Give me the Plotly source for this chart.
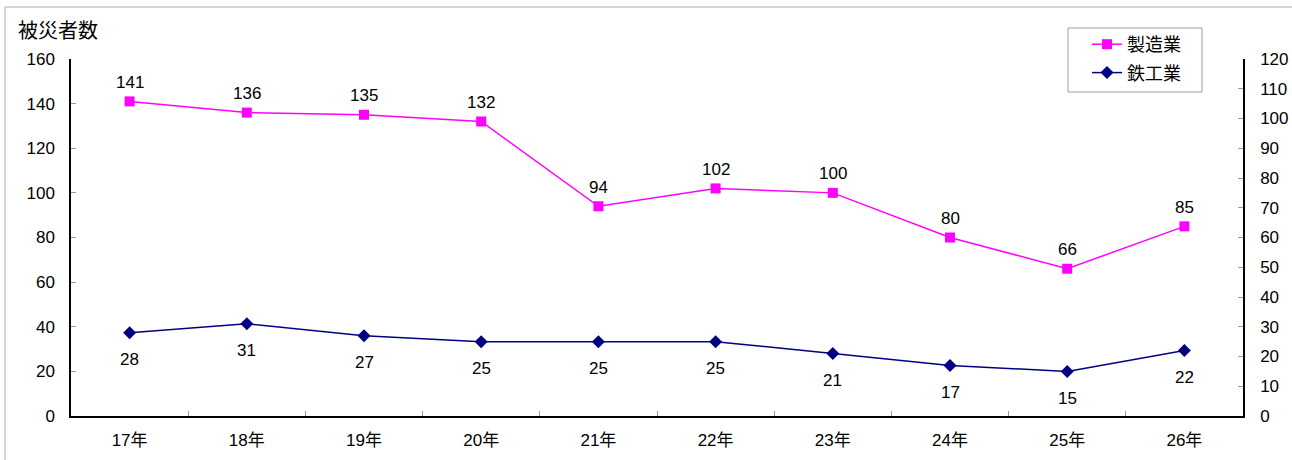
import plotly.graph_objects as go

categories = ["17年", "18年", "19年", "20年", "21年", "22年", "23年", "24年", "25年", "26年"]
seizo = [141, 136, 135, 132, 94, 102, 100, 80, 66, 85]
tekko = [28, 31, 27, 25, 25, 25, 21, 17, 15, 22]

FONT = "Arial, 'Liberation Sans', 'Noto Sans CJK JP', sans-serif"
W, H = 1292, 460
L, R, T, B = 71, 49, 59, 44
pw, ph = W - L - R, H - T - B

def px_x(x):
    return (x - L) / pw

def px_y(y):
    return (H - B - y) / ph

fig = go.Figure()
fig.add_trace(go.Scatter(
    x=categories, y=seizo, name="製造業", mode="lines+markers", legendgroup="a",
    line=dict(color="#ff00ff", width=1.5),
    marker=dict(symbol="square", size=10, color="#ff00ff"),
    yaxis="y",
))
fig.add_trace(go.Scatter(
    x=categories, y=tekko, name="鉄工業", mode="lines+markers", legendgroup="b",
    line=dict(color="#000080", width=1.5),
    marker=dict(symbol="diamond", size=10, color="#000080"),
    yaxis="y2",
))

annotations = []
for c, v in zip(categories, seizo):
    annotations.append(dict(x=c, y=v, xref="x", yref="y", text=str(v), showarrow=False,
                            yshift=19, font=dict(family=FONT, size=17, color="#000")))
for c, v in zip(categories, tekko):
    annotations.append(dict(x=c, y=v, xref="x", yref="y2", text=str(v), showarrow=False,
                            yshift=-27, font=dict(family=FONT, size=17, color="#000")))
annotations.append(dict(x=px_x(16), y=px_y(31), xref="paper", yref="paper",
                        text="被災者数", showarrow=False, xanchor="left", yanchor="middle",
                        font=dict(family=FONT, size=20, color="#000")))

shapes = [
    dict(type="line", xref="paper", yref="paper",
         x0=px_x(5), x1=px_x(W + 5), y0=px_y(7), y1=px_y(7),
         line=dict(color="#c8c8c8", width=1.5)),
    dict(type="line", xref="paper", yref="paper",
         x0=px_x(5), x1=px_x(5), y0=px_y(7), y1=px_y(H + 10),
         line=dict(color="#c8c8c8", width=1.5)),
    # legend frame
    dict(type="rect", xref="paper", yref="paper",
         x0=px_x(1068), x1=px_x(1202), y0=px_y(28), y1=px_y(92),
         line=dict(color="#a0a0a0", width=1), fillcolor="white", layer="below"),
]

axis_common = dict(showgrid=False, zeroline=False, showline=True, linecolor="#000", linewidth=1.5,
                   ticks="inside", ticklen=5, tickcolor="#999", tickwidth=1, automargin=False,
                   tickfont=dict(family=FONT, size=17, color="#000"))

fig.update_layout(
    template="none",
    width=W, height=H,
    margin=dict(l=L, r=R, t=T, b=B, pad=0, autoexpand=False),
    paper_bgcolor="white", plot_bgcolor="rgba(0,0,0,0)",
    font=dict(family=FONT, size=17, color="#000"),
    showlegend=True,
    legend=dict(x=px_x(1087), y=px_y(26), xanchor="left", yanchor="top",
                borderwidth=0, bgcolor="rgba(0,0,0,0)",
                font=dict(family=FONT, size=18, color="#000"), tracegroupgap=2),
    xaxis=dict(**axis_common, type="category", tickson="boundaries", ticklabelstandoff=8,
               range=[-0.5, len(categories) - 0.5]),
    yaxis=dict(**axis_common, range=[0, 160], dtick=20, ticklabelstandoff=11),
    yaxis2=dict(**axis_common, range=[0, 120], dtick=10, overlaying="y", side="right",
                ticklabelstandoff=12),
    annotations=annotations,
    shapes=shapes,
)

fig.write_html("out.html", config={"displayModeBar": False},
               post_script="document.body.style.margin='0';document.body.style.overflow='hidden';")
